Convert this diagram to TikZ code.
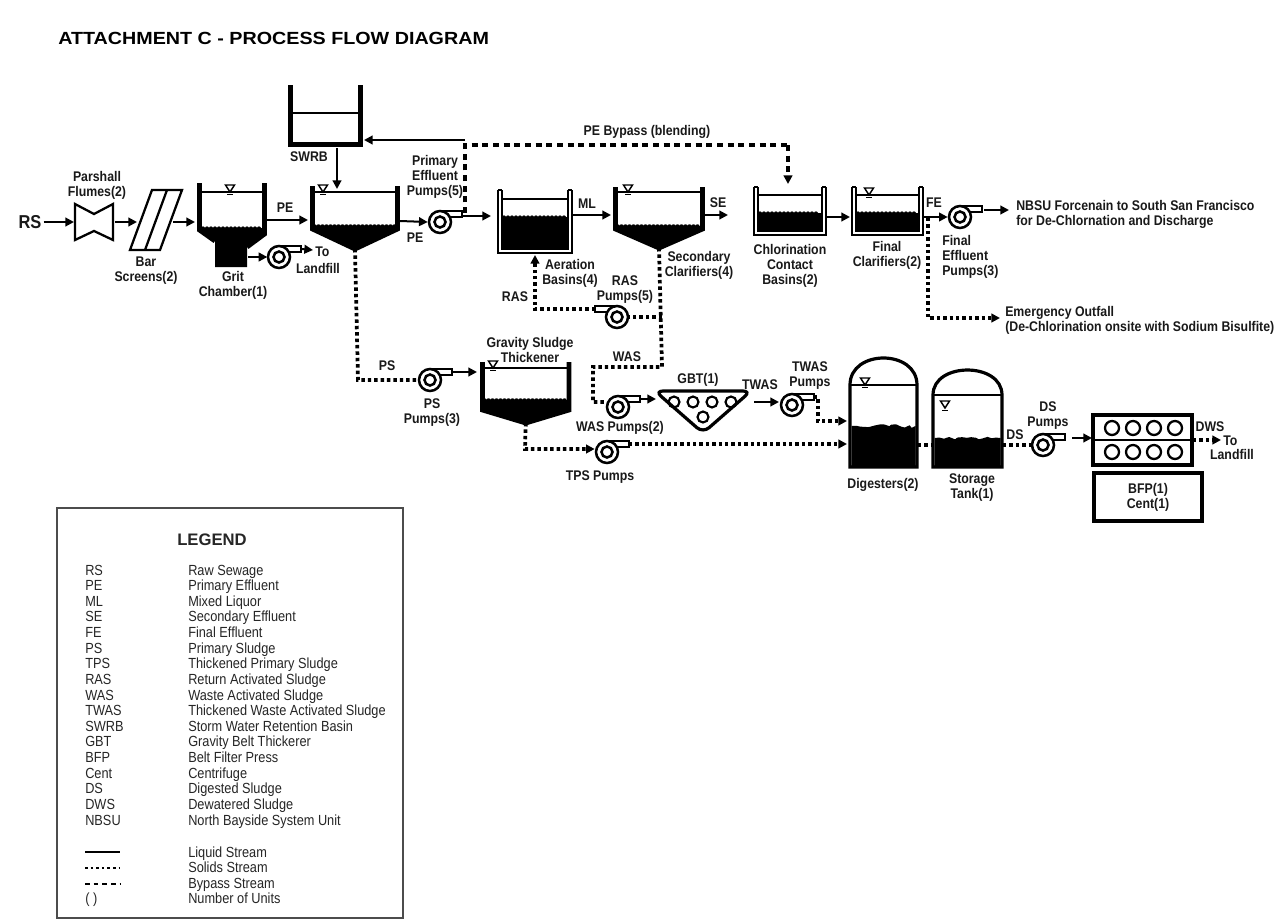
\documentclass[tikz,border=0pt]{standalone}
\usepackage{fontspec}
\setmainfont{Liberation Sans}
\newfontfamily\lblfont[FakeStretch=0.88]{Liberation Sans}
\newfontfamily\lgfont[FakeStretch=0.87]{Liberation Sans}
\newfontfamily\ttlfont[FakeStretch=1.12]{Liberation Sans}
\usetikzlibrary{arrows.meta,decorations.pathmorphing}
\pgfmathsetseed{11}
% clarifier: name, xl, xr, top, wall bottom, apex y, fill top, water y
\newcommand{\clarif}[8]{%
  \coordinate (#1-apex) at ({(#2+#3)/2},#6);
  \fill (#2,#7) decorate[decoration={bumps,segment length=6pt,amplitude=1.3pt}] {-- (#3,#7)} -- (#3,#5) -- (#1-apex) -- (#2,#5) -- cycle;
  \draw[wall] (#2,#4) -- (#2,#5) -- (#1-apex) -- (#3,#5) -- (#3,#4);
  \draw[water] (#2,#8) -- (#3,#8);
}
% basin: xl, xr, top, bottom, fill top, water y
\newcommand{\basin}[6]{%
  \fill ({#1+4},#5) decorate[decoration={bumps,segment length=6pt,amplitude=1.2pt}] {-- ({#2-4},#5)} -- ({#2-4},{#4-4}) -- ({#1+4},{#4-4}) -- cycle;
  \draw[line width=1.7pt] (#1,#3) -- (#1,#4) -- (#2,#4) -- (#2,#3);
  \draw[line width=1.3pt] ({#1+4},#3) -- ({#1+4},{#4-4}) -- ({#2-4},{#4-4}) -- ({#2-4},#3);
  \draw[line width=1.3pt] (#1,#3) -- ({#1+4},#3) (#2,#3) -- ({#2-4},#3);
  \draw[water] ({#1+4},#6) -- ({#2-4},#6);
}
\newcommand{\wlev}[2]{%
  \draw[line width=1.1pt, fill=white] ({#1-4.5},{#2-7}) -- ({#1+4.5},{#2-7}) -- (#1,#2) -- cycle;
  \draw[line width=1.1pt] ({#1-3},{#2+2.5}) -- ({#1+3},{#2+2.5});
}
\begin{document}
\begin{tikzpicture}[x=0.75pt,y=-0.75pt,
  lbl/.style={font=\lblfont\bfseries\fontsize{10.5}{11.3}\selectfont, inner sep=0pt, align=center, text=black!90},
  lg/.style={font=\lgfont\fontsize{11}{11.7}\selectfont, inner sep=0pt, text=black!85},
  wall/.style={line width=3.6pt},
  water/.style={line width=1pt},
  pumpline/.style={line width=1.9pt},
  tip/.style={-{Triangle[length=6.5pt,width=6.5pt]}},
  liq/.style={line width=1.5pt, tip},
  sol/.style={line width=2.8pt, dash pattern=on 2.6pt off 2.2pt},
  byp/.style={line width=2.8pt, dash pattern=on 4.5pt off 3.5pt},
  pics/pumpR/.style={code={
    \draw[pumpline, fill=white] (0,-11) -- (22,-11) -- (22,-5) -- (9.8,-5);
    \draw[pumpline, fill=white] (0,0) circle[radius=11];
    \draw[pumpline] (0,0) circle[radius=5.5];
    \coordinate (-out) at (22,-8);
    \coordinate (-w) at (-11,0);
    \coordinate (-e) at (11,0);
  }},
  pics/pumpL/.style={code={
    \draw[pumpline, fill=white] (0,-11) -- (-22,-11) -- (-22,-5) -- (-9.8,-5);
    \draw[pumpline, fill=white] (0,0) circle[radius=11];
    \draw[pumpline] (0,0) circle[radius=5.5];
    \coordinate (-out) at (-22,-8);
    \coordinate (-w) at (-11,0);
    \coordinate (-e) at (11,0);
  }},
]
\useasboundingbox (0,0) rectangle (1283,921);
\fill[white] (0,0) rectangle (1283,921);

% title
\node[font=\ttlfont\bfseries\fontsize{13.2}{15}\selectfont, inner sep=0pt, anchor=west] (title) at (58,38) {ATTACHMENT C - PROCESS FLOW DIAGRAM};

% ---------- ports ----------
\coordinate (fl-w) at (74,222);   \coordinate (fl-e) at (115,222);
\coordinate (bs-w) at (137,222);  \coordinate (bs-e) at (173,222);
\coordinate (gc-w) at (195,222);  \coordinate (gc-e) at (267,220);
\coordinate (gc-h) at (248,257);
\coordinate (pc-w) at (308,220);  \coordinate (pc-e) at (400,221);
\coordinate (sw-b) at (337,148);  \coordinate (sw-e) at (364,140);
\coordinate (pc-top) at (337,189);
\coordinate (byc) at (465,140);
\coordinate (ab-w) at (491,216);  \coordinate (ab-e) at (573,215);  \coordinate (ab-b) at (535,255);
\coordinate (sc-w) at (611,215);  \coordinate (sc-e) at (705,215);
\coordinate (cc-top) at (788,184); \coordinate (cc-e) at (827,217);
\coordinate (fc-w) at (850,217);  \coordinate (fc-e) at (924,217);
\coordinate (th-w) at (477,372);
\coordinate (gbt-w) at (656,399); \coordinate (gbt-e) at (754,402);
\coordinate (dg-w1) at (847,421); \coordinate (dg-w2) at (847,444);
\coordinate (dg-e) at (918,445);  \coordinate (st-w) at (932,445); \coordinate (st-e) at (1003,445);
\coordinate (bfp-w) at (1092,438); \coordinate (bfp-e) at (1193,440);

% ---------- main liquid train ----------
\node[lbl, font=\lblfont\bfseries\fontsize{14}{16}\selectfont] (rs) at (30,222) {RS};
\draw[liq] ([xshift=1.5pt]rs.east) -- (fl-w);

% Parshall flume
\draw[line width=1.7pt, fill=white] (75,204) -- (94,214) -- (113,204) -- (113,240) -- (94,231) -- (75,240) -- cycle;
\node[lbl] (flumelbl) at (97,185.5) {Parshall\\Flumes(2)};
\draw[liq] (fl-e) -- (bs-w);

% bar screens
\draw[line width=1.7pt] (152,190) -- (182,190) -- (160,250) -- (130,250) -- cycle;
\draw[line width=1.7pt] (167,190) -- (145,250);
\node[lbl] (barlbl) at (146,270.5) {Bar\\Screens(2)};
\draw[liq] (bs-e) -- (gc-w);

% grit chamber
\fill (201,228) decorate[decoration={bumps,segment length=6pt,amplitude=1.2pt}] {-- (263,228)} -- (263,235) -- (247,247) -- (247,267) -- (215,267) -- (215,240) -- (201,230) -- cycle;
\draw[wall] (199.5,183) -- (199.5,230) -- (215,241);
\draw[wall] (264.5,183) -- (264.5,234) -- (247,247);
\draw[water] (199.5,192) -- (264.5,192);
\wlev{230}{192}
\node[lbl] (gritlbl) at (233,285.5) {Grit\\Chamber(1)};
\pic (lfp) at (279,257) {pumpR};
\draw[liq] (gc-h) -- ([xshift=-0.5]lfp-w);
\coordinate (lf-end) at (313,250);
\draw[liq] (lfp-out) -- (lf-end);
\node[lbl, anchor=west] (tolf1) at (315,252) {To};
\node[lbl] (tolf2) at (318,268) {Landfill};

\draw[liq] (gc-e) -- (pc-w);
\node[lbl] (pe1) at (285,208) {PE};

% SWRB
\draw[wall] (290.5,85) -- (290.5,144.5) -- (360.5,144.5) -- (360.5,85);
\draw[water] (290.5,113) -- (360.5,113);
\node[lbl] (swrb) at (309,157) {SWRB};
\draw[liq] (sw-b) -- (pc-top);

% primary clarifier
\clarif{pc}{312.5}{397.5}{186}{229}{249}{226}{192}
\wlev{323}{192}
\pic (pep) at (440,222) {pumpR};
\draw[liq] (pc-e) -- ([xshift=-1]pep-w);
\node[lbl] (pe2) at (415,238) {PE};
\node[lbl] (peplbl) at (435,177) {Primary\\Effluent\\Pumps(5)};

% bypass
\draw[liq] (byc) -- (sw-e);
\draw[byp] (465,213) -- (465,145) -- (788,145);
\draw[byp, tip] (788,145) -- (cc-top);
\node[lbl] (byplbl) at (647,132) {PE Bypass (blending)};
\draw[liq] (463,216) -- (ab-w);

% aeration basins
\basin{498}{572}{190}{253}{217}{199}
\node[lbl] (ablbl) at (570,273) {Aeration\\Basins(4)};
\draw[liq] (ab-e) -- (sc-w);
\node[lbl] (ml) at (587,204) {ML};

% secondary clarifiers
\clarif{sc}{615.5}{702.5}{187}{229}{248}{226}{192}
\wlev{628}{192}
\node[lbl] (sclbl) at (699,265) {Secondary\\Clarifiers(4)};
\draw[liq] (sc-e) -- (728,215);
\node[lbl] (se) at (718,203) {SE};

% RAS / WAS
\pic (rasp) at (617,317) {pumpL};
\node[lbl] (raslbl) at (625,290) {RAS\\Pumps(5)};
\draw[sol] (sc-apex) -- (662,367) -- (593,367) -- (593,402) -- (606,402);
\draw[sol] (662,317) -- (rasp-e);
\draw[sol, tip] (rasp-out) -- (535,309) -- (ab-b);
\node[lbl] (ras) at (515,297) {RAS};
\node[lbl] (was) at (627,357) {WAS};

% chlorination contact basins
\basin{754}{826}{187}{235}{213}{195}
\node[lbl] (cclbl) at (790,266) {Chlorination\\Contact\\Basins(2)};
\draw[liq] (cc-e) -- (fc-w);

% final clarifiers
\basin{852}{923}{187}{235}{213}{195}
\wlev{869}{195}
\node[lbl] (fclbl) at (887,255) {Final\\Clarifiers(2)};
\pic (fep) at (960,217) {pumpR};
\draw[liq] (fc-e) -- ([xshift=-1]fep-w);
\node[lbl] (fe) at (934,203) {FE};
\draw[sol, tip] (928,218) -- (928,318) -- (1000,318);
\draw[liq] (984,210) -- (1009,210);
\node[lbl, align=left, anchor=west] (feplbl) at (942,257) {Final\\Effluent\\Pumps(3)};
\node[lbl, align=left, anchor=west] (nbsu) at (1016,214) {NBSU Forcenain to South San Francisco\\for De-Chlornation and Discharge};
\node[lbl, align=left, anchor=west] (emerg) at (1005,320) {Emergency Outfall\\(De-Chlorination onsite with Sodium Bisulfite)};

% ---------- solids train ----------
\pic (psp) at (430,380) {pumpR};
\draw[sol] (pc-apex) -- (358,380) -- (psp-w);
\node[lbl] (ps) at (387,366) {PS};
\node[lbl] (psplbl) at (432,412.5) {PS\\Pumps(3)};
\draw[liq] (psp-out) -- (th-w);

% gravity sludge thickener
\clarif{th}{482.5}{569}{362}{410}{423}{400}{368}
\wlev{493}{368}
\node[lbl] (thlbl) at (530,350) {Gravity Sludge\\Thickener};

\pic (tpsp) at (607,452) {pumpR};
\draw[sol, tip] (th-apex) -- (525,449) -- ([xshift=-1]tpsp-w |- 0,449);
\node[lbl] (tpslbl) at (600,477) {TPS Pumps};
\draw[sol, tip] (tpsp-out) -- (tpsp-out -| dg-w2);

% WAS pump and GBT
\pic (wasp) at (618,407) {pumpR};
\node[lbl] (wasplbl) at (620,428) {WAS Pumps(2)};
\draw[liq] (wasp-out) -- (gbt-w);
\draw[line width=2.4pt, rounded corners=6pt] (655,391) -- (751,391) -- (703,433) -- cycle;
\foreach \cx in {674,693,712,731} \draw[line width=1.6pt] (\cx,402) circle[radius=5.5];
\draw[line width=1.6pt] (703,417) circle[radius=5.5];
\node[lbl] (gbtlbl) at (698,380) {GBT(1)};
\draw[liq] (gbt-e) -- (779,402);
\node[lbl] (twas) at (760,385) {TWAS};
\pic (twp) at (792,405) {pumpR};
\node[lbl] (twplbl) at (810,376) {TWAS\\Pumps};
\draw[sol, tip] (twp-out) -- (818,397) -- (818,421) -- (dg-w1);

% digesters
\fill (851.5,426) decorate[decoration={random steps,segment length=3pt,amplitude=1.6pt}] {-- (915.5,426)} -- (915.5,467) -- (851.5,467) -- cycle;
\draw[line width=2.4pt] (850,467) -- (850,385) .. controls (850,349) and (917,349) .. (917,385) -- (917,467) -- cycle;
\draw[water] (850,385) -- (917,385);
\wlev{865}{385}
\node[lbl] (dglbl) at (883,485) {Digesters(2)};
\draw[sol] (dg-e) -- (st-w);

% storage tank
\fill (934.5,438) decorate[decoration={random steps,segment length=3pt,amplitude=1.2pt}] {-- (1000.5,438)} -- (1000.5,467) -- (934.5,467) -- cycle;
\draw[line width=2.4pt] (933,467) -- (933,395) .. controls (933,361.7) and (1002,361.7) .. (1002,395) -- (1002,467) -- cycle;
\draw[water] (933,395) -- (1002,395);
\wlev{945}{408}
\node[lbl] (stlbl) at (972,487.5) {Storage\\Tank(1)};

% DS pumps
\pic (dsp) at (1043,445) {pumpR};
\draw[sol] (st-e) -- (dsp-w);
\node[lbl] (ds) at (1015,435) {DS};
\node[lbl] (dsplbl) at (1048,415.5) {DS\\Pumps};
\draw[liq] (1072,438) -- (bfp-w);

% BFP
\draw[line width=2.6pt] (1093,415) rectangle (1192,465);
\draw[line width=1.3pt] (1093,440) -- (1192,440);
\foreach \cx in {1112,1133,1154,1175} {
  \draw[line width=1.7pt] (\cx,428) circle[radius=7];
  \draw[line width=1.7pt] (\cx,452) circle[radius=7];
}
\draw[sol, tip] (bfp-e) -- (1221,440);
\node[lbl] (dws) at (1210,427) {DWS};
\node[lbl, anchor=west] (tolf3) at (1223,441) {To};
\node[lbl] (tolf4) at (1232,454) {Landfill};
\node[lbl, draw, line width=2.6pt, minimum width=81pt, minimum height=36pt] (bfpbox) at (1148,497) {BFP(1)\\Cent(1)};

% ---------- legend ----------
\draw[line width=0.8pt, black!70] (57,508) rectangle (403,918);
\node[font=\bfseries\fontsize{12.5}{14}\selectfont, inner sep=0pt, text=black!85] (legend) at (212,540) {LEGEND};
\foreach \ab/\ds [count=\i] in {RS/Raw Sewage, PE/Primary Effluent, ML/Mixed Liquor, SE/Secondary Effluent, FE/Final Effluent, PS/Primary Sludge, TPS/Thickened Primary Sludge, RAS/Return Activated Sludge, WAS/Waste Activated Sludge, TWAS/Thickened Waste Activated Sludge, SWRB/Storm Water Retention Basin, GBT/Gravity Belt Thickerer, BFP/Belt Filter Press, Cent/Centrifuge, DS/Digested Sludge, DWS/Dewatered Sludge, NBSU/North Bayside System Unit} {
  \node[lg, anchor=base west] (lgab\i) at (85,{575+15.625*(\i-1)}) {\ab};
  \node[lg, anchor=base west] (lgds\i) at (188,{575+15.625*(\i-1)}) {\ds};
}
\foreach \ds/\yy [count=\i] in {Liquid Stream/857, Solids Stream/872, Bypass Stream/888, Number of Units/903} {
  \node[lg, anchor=base west] (lgs\i) at (188,\yy) {\ds};
}
\draw[line width=1.3pt] (85,852) -- (120,852);
\draw[line width=2pt, dash pattern=on 2pt off 2.2pt] (85,868) -- (120,868);
\draw[line width=2pt, dash pattern=on 3.5pt off 3pt] (85,884) -- (120,884);
\node[lg, anchor=base west] (lgunits) at (85,903) {( )};
\end{tikzpicture}
\end{document}
